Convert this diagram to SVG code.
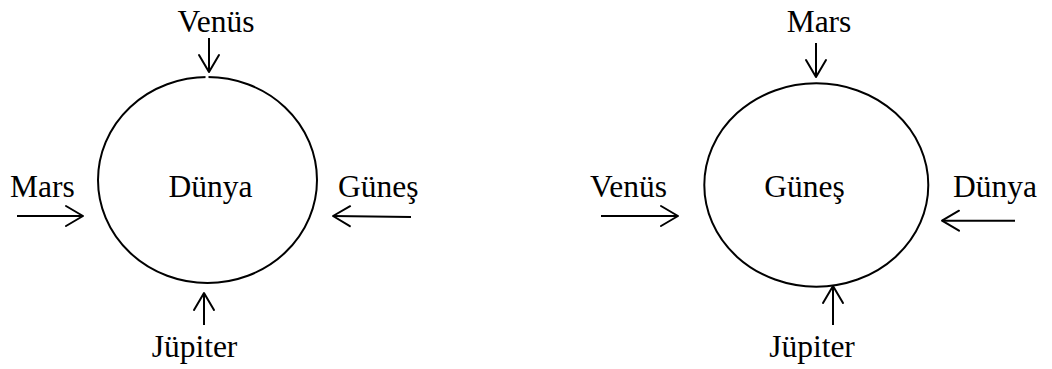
<svg xmlns="http://www.w3.org/2000/svg" width="1052" height="369" viewBox="0 0 1052 369">
  <style>
    text { font-family: "Liberation Serif", "Times New Roman", serif; font-size: 31.5px; fill: #000; }
    .c { text-anchor: middle; }
    .orbit { fill: none; stroke: #000; stroke-width: 2; }
    .arrow { fill: none; stroke: #000; stroke-width: 2; marker-end: url(#ah); }
  </style>
  <defs>
    <marker id="ah" markerUnits="userSpaceOnUse" viewBox="-20 -12 24 24" markerWidth="24" markerHeight="24" refX="0" refY="0" orient="auto" overflow="visible">
      <path d="M-17,-10 L0,0 L-17,10" fill="none" stroke="#000" stroke-width="2" stroke-linejoin="round" stroke-linecap="round"/>
    </marker>
  </defs>
  <rect width="1052" height="369" fill="#fff"/>

  <!-- Left figure: Dünya in the centre -->
  <g id="dunya-left">
    <ellipse class="orbit" cx="207.5" cy="180" rx="109.5" ry="103"/>
    <text class="c" x="210.5" y="197">Dünya</text>
  </g>
  <g id="venus-left"><text class="c" x="216" y="32">Venüs</text></g>
  <g id="mars-left"><text x="10" y="197">Mars</text></g>
  <g id="gunes-left"><text x="338" y="197">Güneş</text></g>
  <g id="jupiter-left"><text class="c" x="194.5" y="357">Jüpiter</text></g>

  <!-- Right figure: Güneş in the centre -->
  <g id="gunes-right">
    <ellipse class="orbit" cx="816.3" cy="185" rx="112" ry="101.7"/>
    <text class="c" x="804.5" y="197">Güneş</text>
  </g>
  <g id="mars-right"><text class="c" x="819" y="32">Mars</text></g>
  <g id="venus-right"><text x="590" y="197">Venüs</text></g>
  <g id="dunya-right"><text x="953" y="197">Dünya</text></g>
  <g id="jupiter-right"><text class="c" x="812" y="357">Jüpiter</text></g>

  <g id="connectors">
    <!-- small break in the orbit where the top arrow meets it -->
    <line x1="205.5" y1="77" x2="208.5" y2="77" stroke="#fff" stroke-width="4"/>
    <line class="arrow" x1="209" y1="38" x2="209" y2="72"/>
    <line class="arrow" x1="17" y1="216" x2="83" y2="216"/>
    <line class="arrow" x1="411" y1="217" x2="333" y2="216"/>
    <line class="arrow" x1="204" y1="325" x2="204" y2="293"/>

    <line class="arrow" x1="816" y1="43" x2="816" y2="77"/>
    <line class="arrow" x1="601" y1="216" x2="678" y2="216"/>
    <line class="arrow" x1="1015" y1="220.7" x2="942" y2="220.7"/>
    <line class="arrow" x1="833" y1="325" x2="833" y2="286"/>
  </g>
</svg>
